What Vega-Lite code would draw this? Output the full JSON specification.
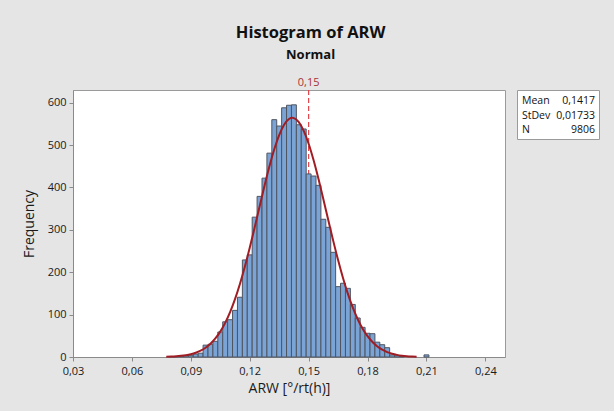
{
  "$schema": "https://vega.github.io/schema/vega-lite/v6.json",
  "autosize": {"type": "pad"},
  "padding": {"left": 21, "top": 25, "right": 16, "bottom": 15},
  "background": "#e5e5e5",
  "title": {
    "text": "Histogram of ARW",
    "subtitle": "Normal",
    "font": "Open Sans",
    "subtitleFont": "Open Sans",
    "fontSize": 16.5,
    "fontWeight": "bold",
    "subtitleFontSize": 13,
    "subtitleFontWeight": "bold",
    "color": "#111111",
    "subtitleColor": "#111111",
    "anchor": "middle",
    "offset": 15,
    "subtitlePadding": 7
  },
  "datasets": {
    "bins": [
      {"lo": 0.07875, "hi": 0.08125, "count": 1},
      {"lo": 0.08125, "hi": 0.08375, "count": 1},
      {"lo": 0.08375, "hi": 0.08625, "count": 2},
      {"lo": 0.08625, "hi": 0.08875, "count": 3},
      {"lo": 0.08875, "hi": 0.09125, "count": 4},
      {"lo": 0.09125, "hi": 0.09375, "count": 7},
      {"lo": 0.09375, "hi": 0.09625, "count": 9},
      {"lo": 0.09625, "hi": 0.09875, "count": 28},
      {"lo": 0.09875, "hi": 0.10125, "count": 30},
      {"lo": 0.10125, "hi": 0.10375, "count": 37},
      {"lo": 0.10375, "hi": 0.10625, "count": 59},
      {"lo": 0.10625, "hi": 0.10875, "count": 83},
      {"lo": 0.10875, "hi": 0.11125, "count": 88},
      {"lo": 0.11125, "hi": 0.11375, "count": 110},
      {"lo": 0.11375, "hi": 0.11625, "count": 141},
      {"lo": 0.11625, "hi": 0.11875, "count": 229},
      {"lo": 0.11875, "hi": 0.12125, "count": 241},
      {"lo": 0.12125, "hi": 0.12375, "count": 330},
      {"lo": 0.12375, "hi": 0.12625, "count": 379},
      {"lo": 0.12625, "hi": 0.12875, "count": 422},
      {"lo": 0.12875, "hi": 0.13125, "count": 481},
      {"lo": 0.13125, "hi": 0.13375, "count": 560},
      {"lo": 0.13375, "hi": 0.13625, "count": 545},
      {"lo": 0.13625, "hi": 0.13875, "count": 588},
      {"lo": 0.13875, "hi": 0.14125, "count": 594},
      {"lo": 0.14125, "hi": 0.14375, "count": 595},
      {"lo": 0.14375, "hi": 0.14625, "count": 548},
      {"lo": 0.14625, "hi": 0.14875, "count": 538},
      {"lo": 0.14875, "hi": 0.15125, "count": 432},
      {"lo": 0.15125, "hi": 0.15375, "count": 427},
      {"lo": 0.15375, "hi": 0.15625, "count": 405},
      {"lo": 0.15625, "hi": 0.15875, "count": 325},
      {"lo": 0.15875, "hi": 0.16125, "count": 306},
      {"lo": 0.16125, "hi": 0.16375, "count": 247},
      {"lo": 0.16375, "hi": 0.16625, "count": 166},
      {"lo": 0.16625, "hi": 0.16875, "count": 174},
      {"lo": 0.16875, "hi": 0.17125, "count": 162},
      {"lo": 0.17125, "hi": 0.17375, "count": 124},
      {"lo": 0.17375, "hi": 0.17625, "count": 92},
      {"lo": 0.17625, "hi": 0.17875, "count": 70},
      {"lo": 0.17875, "hi": 0.18125, "count": 56},
      {"lo": 0.18125, "hi": 0.18375, "count": 55},
      {"lo": 0.18375, "hi": 0.18625, "count": 35},
      {"lo": 0.18625, "hi": 0.18875, "count": 29},
      {"lo": 0.18875, "hi": 0.19125, "count": 22},
      {"lo": 0.19125, "hi": 0.19375, "count": 5},
      {"lo": 0.19375, "hi": 0.19625, "count": 3},
      {"lo": 0.19625, "hi": 0.19875, "count": 1},
      {"lo": 0.20875, "hi": 0.21125, "count": 5}
    ],
    "curve": [
      {"x": 0.0775, "y": 0.59}, {"x": 0.08, "y": 1.0}, {"x": 0.0825, "y": 1.65},
      {"x": 0.085, "y": 2.67}, {"x": 0.0875, "y": 4.24}, {"x": 0.09, "y": 6.59},
      {"x": 0.0925, "y": 10.03}, {"x": 0.095, "y": 14.95}, {"x": 0.0975, "y": 21.82},
      {"x": 0.1, "y": 31.2}, {"x": 0.1025, "y": 43.69}, {"x": 0.105, "y": 59.94},
      {"x": 0.1075, "y": 80.52}, {"x": 0.11, "y": 105.9}, {"x": 0.1125, "y": 136.5},
      {"x": 0.115, "y": 172.2}, {"x": 0.1175, "y": 212.9}, {"x": 0.12, "y": 257.6},
      {"x": 0.1225, "y": 305.5}, {"x": 0.125, "y": 354.7}, {"x": 0.1275, "y": 403.4},
      {"x": 0.13, "y": 449.3}, {"x": 0.1325, "y": 490.1}, {"x": 0.135, "y": 523.7},
      {"x": 0.1375, "y": 548.0}, {"x": 0.14, "y": 561.6}, {"x": 0.1417, "y": 564.3},
      {"x": 0.1425, "y": 563.7}, {"x": 0.145, "y": 554.2}, {"x": 0.1475, "y": 533.6},
      {"x": 0.15, "y": 503.2}, {"x": 0.1525, "y": 464.7}, {"x": 0.155, "y": 420.4},
      {"x": 0.1575, "y": 372.4}, {"x": 0.16, "y": 323.1}, {"x": 0.1625, "y": 274.6},
      {"x": 0.165, "y": 228.6}, {"x": 0.1675, "y": 186.3}, {"x": 0.17, "y": 148.8},
      {"x": 0.1725, "y": 116.3}, {"x": 0.175, "y": 89.1}, {"x": 0.1775, "y": 66.8},
      {"x": 0.18, "y": 49.1}, {"x": 0.1825, "y": 35.3}, {"x": 0.185, "y": 24.9},
      {"x": 0.1875, "y": 17.2}, {"x": 0.19, "y": 11.6}, {"x": 0.1925, "y": 7.69},
      {"x": 0.195, "y": 4.98}, {"x": 0.1975, "y": 3.17}, {"x": 0.2, "y": 1.97},
      {"x": 0.2025, "y": 1.2}, {"x": 0.205, "y": 0.72}
    ],
    "ref": [{"ref": 0.15, "label": "0,15", "top": 630}],
    "stats": [
      {"stat": "Mean", "val": "0,1417"},
      {"stat": "StDev", "val": "0,01733"},
      {"stat": "N", "val": "9806"}
    ]
  },
  "spacing": 12,
  "bounds": "flush",
  "hconcat": [
    {
      "width": 432,
      "height": 267,
      "encoding": {
        "x": {
          "type": "quantitative",
          "scale": {"domain": [0.03, 0.25], "nice": false, "zero": false},
          "axis": {
            "title": "ARW [°/rt(h)]",
            "values": [0.03, 0.06, 0.09, 0.12, 0.15, 0.18, 0.21, 0.24],
            "labelExpr": "replace(format(datum.value, '.2f'), '.', ',')",
            "labelPadding": 4,
            "titlePadding": 5
          }
        },
        "y": {
          "type": "quantitative",
          "scale": {"domain": [0, 630], "nice": false},
          "axis": {
            "title": "Frequency",
            "values": [0, 100, 200, 300, 400, 500, 600],
            "labelPadding": 3,
            "titlePadding": 11
          }
        }
      },
      "layer": [
        {
          "data": {"name": "ref"},
          "mark": {"type": "rule", "color": "#e5444b", "strokeDash": [5, 3], "strokeWidth": 1.2},
          "encoding": {"x": {"field": "ref"}}
        },
        {
          "data": {"name": "bins"},
          "mark": {"type": "bar", "fill": "#7ba4d6", "stroke": "#4f5560", "strokeWidth": 1},
          "encoding": {
            "x": {"field": "lo"},
            "x2": {"field": "hi"},
            "y": {"field": "count"},
            "y2": {"datum": 0}
          }
        },
        {
          "data": {"name": "curve"},
          "mark": {"type": "line", "color": "#a11d24", "strokeWidth": 2, "interpolate": "monotone"},
          "encoding": {
            "x": {"field": "x"},
            "y": {"field": "y"}
          }
        },
        {
          "data": {"name": "ref"},
          "mark": {"type": "text", "color": "#a63237", "fontSize": 11, "font": "Open Sans", "baseline": "bottom", "dy": -2},
          "encoding": {
            "x": {"field": "ref"},
            "y": {"field": "top"},
            "text": {"field": "label"}
          }
        }
      ]
    },
    {
      "width": 82,
      "height": 49,
      "data": {"name": "stats"},
      "encoding": {
        "y": {"field": "stat", "type": "ordinal", "sort": null, "scale": {"type": "point", "padding": 0.7}, "axis": null}
      },
      "layer": [
        {
          "mark": {"type": "text", "align": "left", "dx": 5, "dy": 1, "fontSize": 10.5, "font": "Open Sans", "color": "#111111"},
          "encoding": {
            "x": {"datum": 0, "type": "quantitative", "scale": {"domain": [0, 1]}, "axis": null},
            "text": {"field": "stat"}
          }
        },
        {
          "mark": {"type": "text", "align": "right", "dx": -4, "dy": 1, "fontSize": 10.5, "font": "Open Sans", "color": "#111111"},
          "encoding": {
            "x": {"datum": 1, "type": "quantitative"},
            "text": {"field": "val"}
          }
        }
      ]
    }
  ],
  "config": {
    "view": {"fill": "white", "stroke": "#9a9a9a", "strokeWidth": 1},
    "axis": {
      "grid": false,
      "domainColor": "#8a8a8a",
      "tickColor": "#8a8a8a",
      "tickSize": 4,
      "labelFont": "Open Sans",
      "labelFontSize": 11,
      "labelColor": "#1a1a1a",
      "labelFlush": false,
      "labelOverlap": false,
      "labelPadding": 2,
      "titleFont": "Open Sans",
      "titleFontSize": 14,
      "titleFontWeight": "normal",
      "titleColor": "#1a1a1a"
    },
    "text": {"font": "Open Sans"}
  }
}
